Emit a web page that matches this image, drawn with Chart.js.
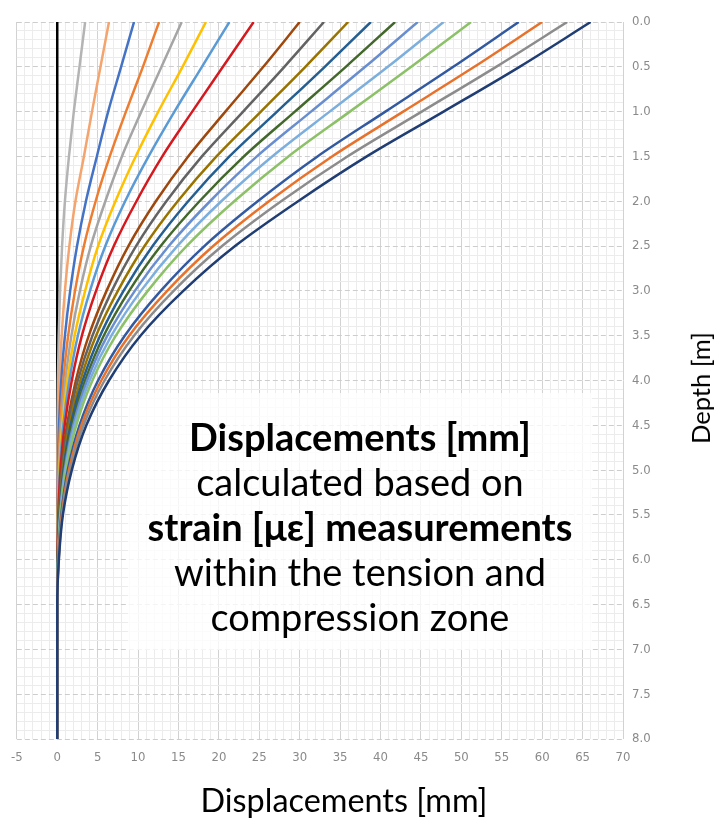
<!DOCTYPE html>
<html><head><meta charset="utf-8">
<script src="https://cdn.jsdelivr.net/npm/chart.js@4.4.0/dist/chart.umd.min.js"></script>
<style>
html,body{margin:0;padding:0;background:#fff;}
#wrap{position:relative;width:719px;height:821px;overflow:hidden;}
#c{position:absolute;left:0;top:0;}
#note{position:absolute;left:128px;top:393px;width:464px;height:257px;background:rgba(255,255,255,0.78);font-family:Lato,'Open Sans',sans-serif;color:#000;text-align:center;}
#note div{position:absolute;left:0;width:100%;white-space:nowrap;}
.t{position:absolute;font-family:Lato,'Open Sans',sans-serif;color:#000;white-space:nowrap;}
</style></head><body>
<div id="wrap">
<canvas id="c" width="719" height="821"></canvas>
<div id="note">
<div id="n1" style="font-weight:bold">Displacements [mm]</div>
<div id="n2">calculated based on</div>
<div id="n3" style="font-weight:bold">strain [με] measurements</div>
<div id="n4">within the tension and</div>
<div id="n5">compression zone</div>
</div>
<div id="xt" class="t">Displacements [mm]</div>
<div id="yt" class="t">Depth [m]</div>
</div>
<script>
// Depths [m] at which displacements were read
const DEPTHS = [0, 0.5, 1, 1.5, 2, 2.5, 3, 3.5, 4, 4.5, 5, 5.5, 6, 6.5, 8];
// Displacement profiles [mm]
const s01 = [0, 0, 0, 0, 0, 0, 0, 0, 0, 0, 0, 0, 0, 0, 0];
const s02 = [3.45, 2.75, 2.05, 1.45, 0.95, 0.6, 0.35, 0.18, 0.08, 0.03, 0.01, 0, 0, 0, 0];
const s03 = [6.4, 5.35, 4.3, 3.3, 2.25, 1.5, 0.95, 0.55, 0.28, 0.12, 0.05, 0.02, 0, 0, 0];
const s04 = [9.5, 7.9, 6.3, 4.9, 3.55, 2.45, 1.6, 0.95, 0.5, 0.22, 0.09, 0.03, 0, 0, 0];
const s05 = [12.6, 10.6, 8.5, 6.5, 4.75, 3.3, 2.2, 1.35, 0.75, 0.36, 0.15, 0.05, 0.01, 0, 0];
const s06 = [15.4, 12.9, 10.4, 8.0, 5.95, 4.15, 2.8, 1.75, 1.0, 0.48, 0.2, 0.07, 0.02, 0, 0];
const s07 = [18.4, 15.5, 12.5, 9.7, 7.2, 5.05, 3.45, 2.15, 1.25, 0.62, 0.26, 0.09, 0.02, 0, 0];
const s08 = [21.3, 17.9, 14.5, 11.3, 8.4, 5.95, 4.05, 2.55, 1.5, 0.75, 0.32, 0.11, 0.03, 0, 0];
const s09 = [24.3, 20.5, 16.7, 13.0, 9.8, 7.0, 4.8, 3.05, 1.8, 0.92, 0.4, 0.14, 0.04, 0, 0];
const s10 = [30.0, 25.5, 20.8, 16.2, 12.2, 8.8, 6.1, 3.9, 2.3, 1.2, 0.55, 0.2, 0.05, 0, 0];
const s11 = [33.0, 28.1, 23.0, 17.9, 13.5, 9.75, 6.75, 4.35, 2.55, 1.35, 0.62, 0.23, 0.06, 0, 0];
const s12 = [36.0, 30.7, 25.2, 19.7, 14.9, 10.8, 7.5, 4.8, 2.85, 1.5, 0.7, 0.26, 0.07, 0, 0];
const s13 = [38.8, 33.1, 27.2, 21.3, 16.2, 11.8, 8.2, 5.3, 3.15, 1.65, 0.77, 0.29, 0.08, 0, 0];
const s14 = [41.8, 35.7, 29.4, 23.1, 17.6, 12.8, 8.9, 5.75, 3.45, 1.82, 0.85, 0.32, 0.09, 0, 0];
const s15 = [44.6, 38.1, 31.4, 24.7, 18.9, 13.8, 9.6, 6.2, 3.7, 1.98, 0.92, 0.35, 0.1, 0, 0];
const s16 = [47.8, 40.9, 33.7, 26.6, 20.3, 14.85, 10.35, 6.7, 4.0, 2.15, 1.0, 0.38, 0.11, 0, 0];
const s17 = [51.2, 43.8, 36.2, 28.6, 21.9, 16.0, 11.2, 7.25, 4.35, 2.35, 1.1, 0.42, 0.12, 0, 0];
const s18 = [57.1, 49.0, 40.6, 32.2, 24.8, 18.2, 12.8, 8.35, 5.05, 2.75, 1.3, 0.5, 0.14, 0, 0];
const s19 = [60.0, 51.6, 42.8, 34.0, 26.2, 19.3, 13.6, 8.9, 5.45, 2.98, 1.45, 0.56, 0.16, 0, 0];
const s20 = [63.1, 54.3, 45.1, 35.9, 27.7, 20.4, 14.4, 9.5, 5.85, 3.25, 1.6, 0.62, 0.18, 0, 0];
const s21 = [66.0, 57.2, 47.8, 38.3, 29.8, 22.0, 15.6, 10.3, 6.4, 3.6, 1.8, 0.7, 0.2, 0, 0];
const SERIES = [s01, s02, s03, s04, s05, s06, s07, s08, s09, s10, s11, s12, s13, s14, s15, s16, s17, s18, s19, s20, s21];
const COLORS = ['#000000', '#B4B4B4', '#F4A46E', '#4472C4', '#ED7D31', '#A5A5A5', '#FFC000', '#5B9BD5', '#D41A1F', '#9E480E', '#636363', '#997300', '#255E91', '#43682B', '#698ED0', '#7CAFDD', '#8CC168', '#335AA1', '#E8722C', '#8C8C8C', '#203E74'];
const X_MIN = -5, X_MAX = 70, Y_MIN = 0, Y_MAX = 8;

function fitSize(text, weight, family, target) {
  const ctx = document.createElement('canvas').getContext('2d');
  ctx.font = weight + ' 100px ' + family;
  return 100 * target / ctx.measureText(text).width;
}
const FAM = 'Lato';
const noteSize = fitSize('Displacements [mm]', 'bold', FAM, 342);
const tops = [437, 482, 527, 572, 617];
['n1','n2','n3','n4','n5'].forEach((id, i) => {
  const el = document.getElementById(id);
  el.style.fontSize = noteSize + 'px';
  el.style.lineHeight = '44px';
  el.style.top = (tops[i] - 393 - 22) + 'px';
});
const xt = document.getElementById('xt');
const xs = fitSize('Displacements [mm]', 'normal', FAM, 287);
xt.style.fontSize = xs + 'px'; xt.style.lineHeight = '34px';
xt.style.left = '344px'; xt.style.top = (800 - 17) + 'px'; xt.style.transform = 'translateX(-50%)';
const yt = document.getElementById('yt');
const ys = fitSize('Depth [m]', 'normal', FAM, 112);
yt.style.fontSize = ys + 'px'; yt.style.lineHeight = '34px';
yt.style.left = '700px'; yt.style.top = '388px';
yt.style.transform = 'translate(-50%,-50%) rotate(-90deg)';

const isMajX = v => Math.abs(v / 5 - Math.round(v / 5)) < 1e-6;
const isMajY = v => Math.abs(v * 2 - Math.round(v * 2)) < 1e-6;
const tickFont = {family: "'Liberation Sans Narrow','DejaVu Sans Condensed','Liberation Sans',sans-serif", size: 13};

const datasets = SERIES.map((s, i) => ({
  label: 'S' + (i + 1),
  data: DEPTHS.map((d, j) => ({x: s[j], y: d})),
  borderColor: COLORS[i],
  backgroundColor: COLORS[i],
  borderWidth: 2.5,
  pointRadius: 0,
  fill: false,
  cubicInterpolationMode: 'monotone',
  order: SERIES.length - i
}));

new Chart(document.getElementById('c'), {
  type: 'line',
  data: {datasets},
  options: {
    indexAxis: 'y',
    responsive: false,
    animation: false,
    devicePixelRatio: 1,
    layout: {padding: {left: 15, top: 22, right: 0, bottom: 0}},
    plugins: {legend: {display: false}, tooltip: {enabled: false}},
    scales: {
      x: {
        type: 'linear', position: 'bottom', min: X_MIN, max: X_MAX,
        afterFit: s => { s.height = 82; },
        ticks: {stepSize: 1, autoSkip: false, maxRotation: 0, padding: 11, color: '#8a8a8a', font: tickFont,
          callback: v => isMajX(v) ? String(Math.round(v)) : ''},
        grid: {drawTicks: false, lineWidth: 1,
          color: c => (c.tick && isMajX(c.tick.value)) ? '#d2d2d2' : '#ececec'},
        border: {display: false}
      },
      y: {
        type: 'linear', position: 'right', min: Y_MIN, max: Y_MAX, reverse: true,
        afterFit: s => { s.width = 96; },
        ticks: {stepSize: 0.1, autoSkip: false, padding: 9, color: '#8a8a8a', font: tickFont,
          callback: v => isMajY(v) ? v.toFixed(1) : ''},
        grid: {drawTicks: false, lineWidth: 1,
          color: c => (c.tick && isMajY(c.tick.value)) ? '#cdcdcd' : '#ececec'},
        border: {display: false, dash: c => (c.tick && isMajY(c.tick.value)) ? [5, 3] : []}
      }
    }
  }
});
</script>
</body></html>
